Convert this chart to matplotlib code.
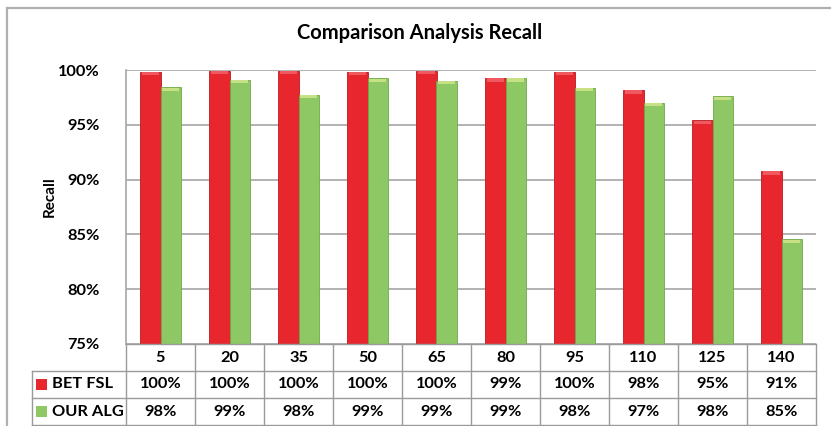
import matplotlib
matplotlib.use("Agg")
import matplotlib.pyplot as plt
from matplotlib.patches import Rectangle
from matplotlib.lines import Line2D
import numpy as np

plt.rcParams['font.family'] = ['Lato', 'DejaVu Sans']

# Data
categories = ["5", "20", "35", "50", "65", "80", "95", "110", "125", "140"]
bet_fsl = [99.85, 99.94, 99.94, 99.85, 99.94, 99.30, 99.85, 98.18, 95.41, 90.81]
our_alg = [98.45, 99.12, 97.75, 99.24, 99.03, 99.30, 98.39, 97.02, 97.63, 84.55]
series_names = ["BET FSL", "OUR ALG"]
yticks = [75, 80, 85, 90, 95, 100]

RED = "#E8262E"
GREEN = "#8DC865"
RED_EDGE = "#B81C22"
GREEN_EDGE = "#6FA84A"
GRID = "#A6A6A6"
FS = 11.8

W, H = 831, 426
fig = plt.figure(figsize=(W / 100, H / 100), dpi=100)

def fx(px):
    return px / W

def fy(py):
    return 1 - py / H

plot_l, plot_r, plot_t, plot_b = 126, 816, 70, 344
ax = fig.add_axes([fx(plot_l), fy(plot_b), fx(plot_r - plot_l), fy(plot_t) - fy(plot_b)])

n = len(categories)
x = np.arange(n)
bw = 0.29
ax.bar(x - bw / 2, np.array(bet_fsl) - 75, bw, bottom=75, color=RED,
       edgecolor=RED_EDGE, linewidth=0.6, zorder=3)
ax.bar(x + bw / 2, np.array(our_alg) - 75, bw, bottom=75, color=GREEN,
       edgecolor=GREEN_EDGE, linewidth=0.6, zorder=3)
# bevelled caps on top of each bar
cap = 0.3
ax.bar(x - bw / 2, [cap] * n, bw * 0.85, bottom=np.array(bet_fsl) - cap - 0.05,
       color="#EE5A5F", linewidth=0, zorder=4)
ax.bar(x + bw / 2, [cap] * n, bw * 0.85, bottom=np.array(our_alg) - cap - 0.05,
       color="#C5E184", linewidth=0, zorder=4)

ax.set_xlim(-0.5, n - 0.5)
ax.set_ylim(75, 100)
ax.set_yticks(yticks)
ax.set_yticklabels([f"{t}%" for t in yticks], fontsize=FS, fontweight="bold")
ax.tick_params(axis="y", length=0, pad=19)
ax.set_xticks([])
ax.grid(axis="y", color=GRID, linewidth=1.2, zorder=0)
for s in ["top", "right", "bottom"]:
    ax.spines[s].set_visible(False)
ax.spines["left"].set_color(GRID)
ax.spines["left"].set_linewidth(1.2)

fig.text(fx(50), fy(197), "Recall", rotation=90, ha="center", va="center",
         fontsize=11, fontweight="bold")

# Title
fig.text(fx(420), fy(33), "Comparison Analysis Recall", ha="center", va="center",
         fontsize=14.5, fontweight="bold")

# Outer chart frame (top and left edges)
fig.add_artist(Line2D([fx(7), 1], [fy(8), fy(8)], color="#B0B0B0", linewidth=1.6))
fig.add_artist(Line2D([fx(7), fx(7)], [fy(8), 0], color="#B0B0B0", linewidth=1.6))

# Data table beneath the plot
row_edges = [344, 371, 398, 425]
col_w = (plot_r - plot_l) / n
col_edges = [plot_l + col_w * k for k in range(n + 1)]
head_l = 32
TCOL = "#9A9A9A"
lw = 1.0
for i, yy in enumerate(row_edges):
    x0 = plot_l if i == 0 else head_l
    fig.add_artist(Line2D([fx(x0), fx(plot_r)], [fy(yy), fy(yy)], color=TCOL, linewidth=lw))
for cx in col_edges:
    fig.add_artist(Line2D([fx(cx), fx(cx)], [fy(row_edges[0]), fy(row_edges[-1])],
                          color=TCOL, linewidth=lw))
fig.add_artist(Line2D([fx(head_l), fx(head_l)], [fy(row_edges[1]), fy(row_edges[-1])],
                      color=TCOL, linewidth=lw))

rows = [bet_fsl, our_alg]
colors = [RED, GREEN]
for k, c in enumerate(categories):
    cx = (col_edges[k] + col_edges[k + 1]) / 2
    fig.text(fx(cx), fy((row_edges[0] + row_edges[1]) / 2), c, ha="center", va="center",
             fontsize=FS, fontweight="bold")
    for r, vals in enumerate(rows):
        fig.text(fx(cx), fy((row_edges[r + 1] + row_edges[r + 2]) / 2), f"{vals[k]:.0f}%",
                 ha="center", va="center", fontsize=FS, fontweight="bold")

for r, name in enumerate(series_names):
    yc = (row_edges[r + 1] + row_edges[r + 2]) / 2
    sq = 11
    fig.add_artist(Rectangle((fx(36), fy(yc + sq / 2)), fx(sq), fy(0) - fy(sq),
                             facecolor=colors[r], edgecolor="none"))
    fig.text(fx(52), fy(yc), name, ha="left", va="center", fontsize=FS, fontweight="bold")

fig.savefig("out.png", dpi=100, facecolor="white")
